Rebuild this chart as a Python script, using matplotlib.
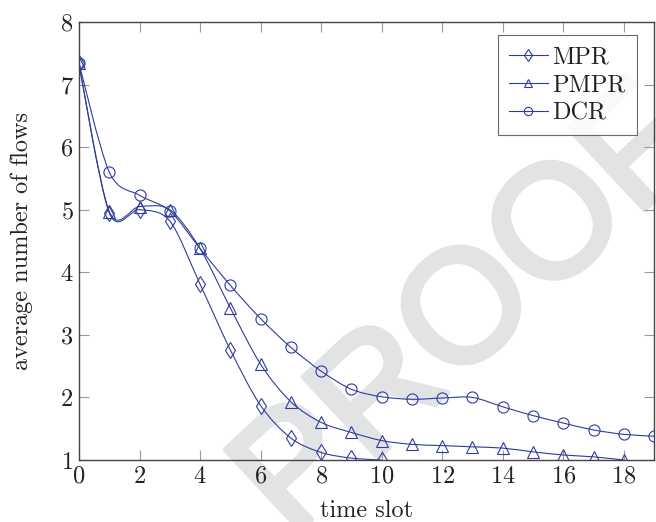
import numpy as np
import matplotlib
matplotlib.use("Agg")
import matplotlib.pyplot as plt
import matplotlib.patheffects as pe
from matplotlib.path import Path
from matplotlib.patches import PathPatch
from matplotlib.lines import Line2D

plt.rcParams['font.family'] = ['cmr10', 'DejaVu Serif']
plt.rcParams['mathtext.fontset'] = 'cm'
plt.rcParams['axes.formatter.use_mathtext'] = True

# data
slots_mpr = [0, 1, 2, 3, 4, 5, 6, 7, 8, 9, 10]
mpr = [7.35, 4.95, 5.00, 4.82, 3.81, 2.76, 1.87, 1.35, 1.12, 1.03, 1.00]

slots_pmpr = list(range(0, 19))
pmpr = [7.35, 4.97, 5.05, 5.00, 4.38, 3.43, 2.53, 1.93, 1.60, 1.44, 1.31,
        1.25, 1.23, 1.21, 1.19, 1.13, 1.08, 1.05, 1.00]

slots_dcr = list(range(0, 20))
dcr = [7.35, 5.60, 5.23, 4.98, 4.38, 3.79, 3.26, 2.80, 2.42, 2.13, 2.01,
       1.97, 1.99, 2.00, 1.85, 1.71, 1.59, 1.48, 1.41, 1.38]

series = [("MPR", slots_mpr, mpr, "d"),
          ("PMPR", slots_pmpr, pmpr, "^"),
          ("DCR", slots_dcr, dcr, "o")]

BLUE = "#2f3c9e"
GREY_WM = "#e2e3e5"
FS = 17.5


def smooth_path(xs, ys, tension=0.55):
    # tikz-like smooth curve through the points
    p = np.column_stack([xs, ys]).astype(float)
    k = 0.2775 * tension
    n = len(p)
    verts = [p[0]]
    codes = [Path.MOVETO]
    for i in range(n - 1):
        if i == 0:
            c1 = p[0]
        else:
            c1 = p[i] + k * (p[i + 1] - p[i - 1])
        if i + 1 == n - 1:
            c2 = p[n - 1]
        else:
            c2 = p[i + 1] - k * (p[i + 2] - p[i])
        verts += [c1, c2, p[i + 1]]
        codes += [Path.CURVE4] * 3
    return Path(verts, codes)


fig = plt.figure(figsize=(6.56, 5.22), dpi=100)
ax = fig.add_axes([0.1204, 0.1188, 0.8766, 0.8392])
ax.set_zorder(1)
ax.patch.set_alpha(0)

# watermark behind everything
wm = fig.text(0.700, 0.420, "PROOF", fontsize=115, color=GREY_WM,
              family="Liberation Sans", rotation=43,
              ha="center", va="center_baseline", rotation_mode="anchor",
              zorder=0)
wm.set_path_effects([pe.withStroke(linewidth=4, foreground=GREY_WM)])

handles = []
for name, xs, ys, mk in series:
    ax.add_patch(PathPatch(smooth_path(xs, ys), facecolor="none",
                           edgecolor=BLUE, lw=0.8, zorder=2))
    ax.plot(xs, ys, ls="none", marker=mk, ms=8 if mk != "d" else 8.5,
            mfc="none", mec=BLUE, mew=0.8, zorder=3)
    handles.append(Line2D([], [], color=BLUE, lw=0.8, marker=mk, ms=6,
                          mfc="none", mec=BLUE, mew=0.8))

ax.set_xlim(0, 19)
ax.set_ylim(1, 8)
ax.set_xticks(range(0, 19, 2))
ax.set_yticks(range(1, 9))

for s in ax.spines.values():
    s.set_color("#444444")
    s.set_linewidth(1.0)
ax.tick_params(direction="in", length=7, width=0.8, color="#999999",
               top=True, right=True, labelsize=FS, labelcolor="#222222",
               pad=4)

ax.set_xlabel("time slot", fontsize=FS, color="#222222", labelpad=9)
ax.set_ylabel("average number of flows", fontsize=FS, color="#222222",
              labelpad=19)

leg = ax.legend(handles, [s[0] for s in series], loc="upper right",
                bbox_to_anchor=(0.970, 0.970), borderaxespad=0,
                fontsize=FS, frameon=True, fancybox=False,
                handlelength=1.6, handletextpad=0.2,
                labelspacing=0.25, borderpad=0.45)
leg.get_frame().set_edgecolor("#444444")
leg.get_frame().set_linewidth(0.8)
for t in leg.get_texts():
    t.set_color("#222222")

fig.savefig("out.png", dpi=100)
